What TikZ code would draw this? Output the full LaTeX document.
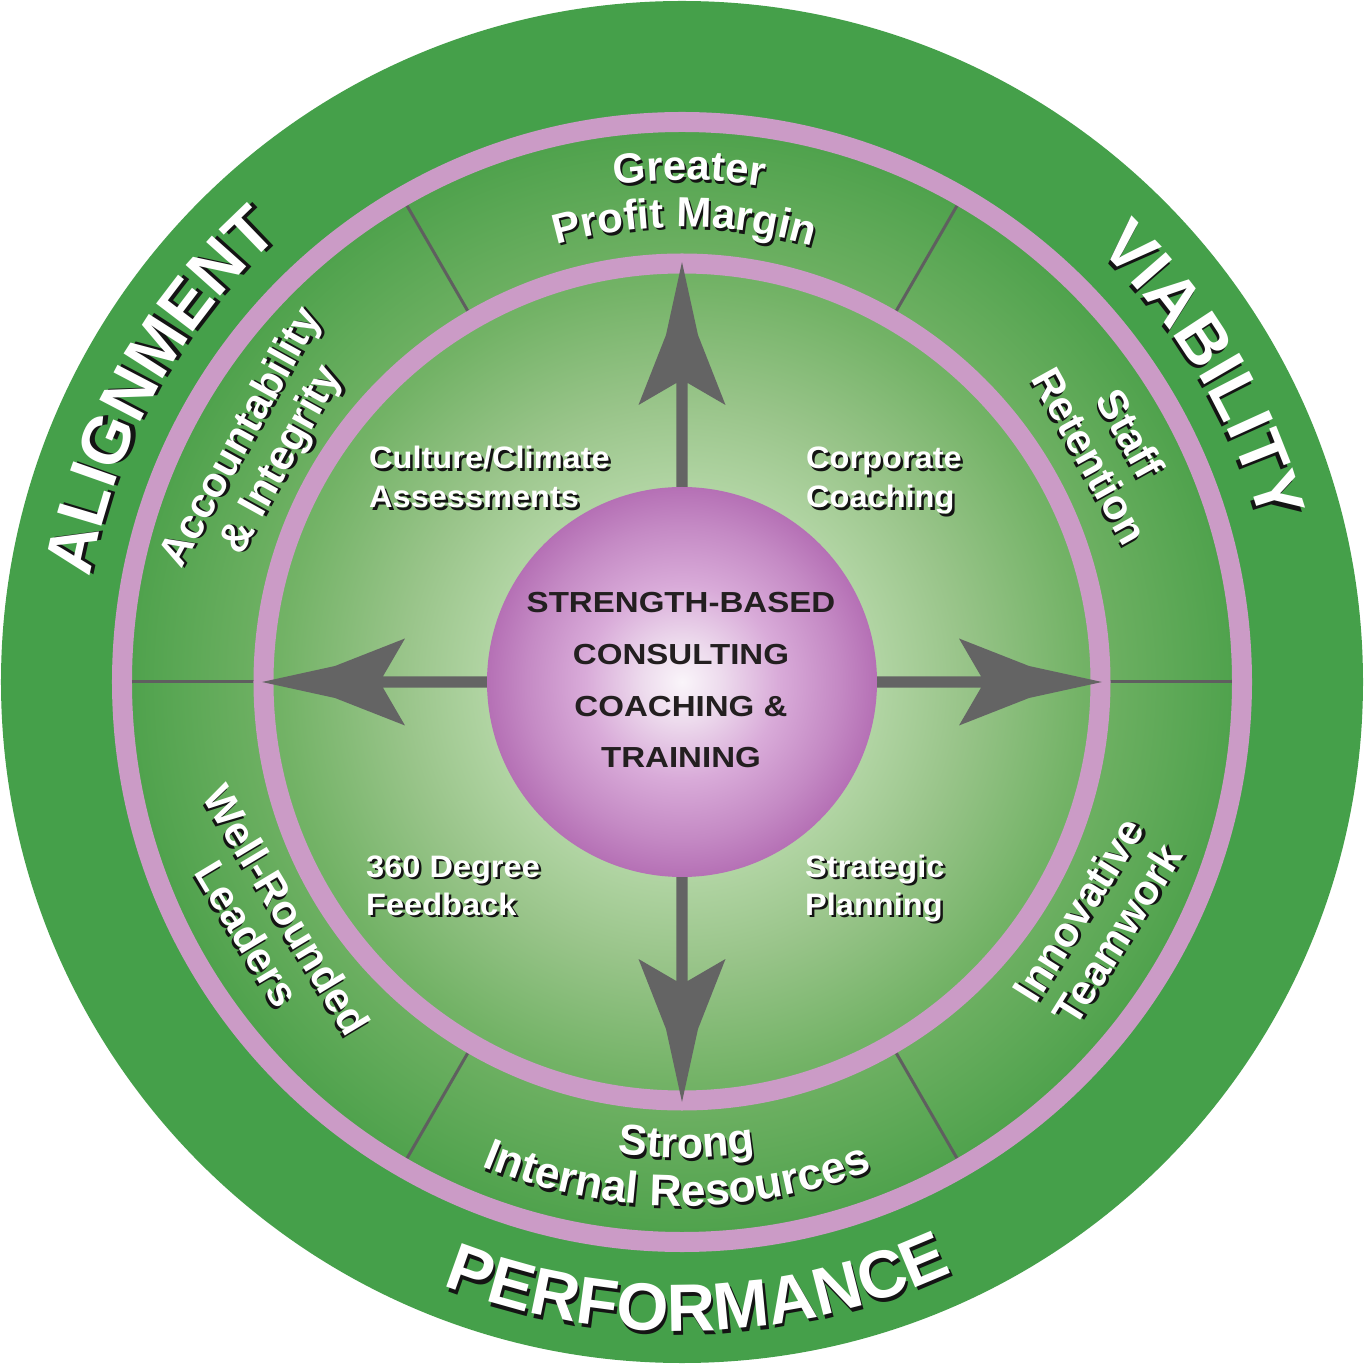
\documentclass[tikz,border=0pt]{standalone}
\usepackage{fontspec}
\setmainfont{Liberation Sans}
\newfontfamily\heavyfont{Liberation Sans Bold}
\newfontfamily\widefont{Liberation Sans Bold}[FakeStretch=1.14]
\newfontfamily\medfont{Liberation Sans Bold}[FakeStretch=1.05]
\usetikzlibrary{decorations.text}

\definecolor{outerg}{RGB}{69,160,74}
\definecolor{ringpink}{RGB}{203,155,198}
\definecolor{divgray}{RGB}{95,95,95}
\definecolor{arrowgray}{RGB}{100,100,100}
\definecolor{shadowc}{RGB}{20,20,20}
\definecolor{ctrtext}{RGB}{35,31,32}

\pgfdeclareradialshading{greenfield}{\pgfpoint{0bp}{0bp}}{rgb(0bp)=(0.87,0.93,0.83); rgb(9bp)=(0.69,0.83,0.635); rgb(12.7bp)=(0.6,0.77,0.54); rgb(18.1bp)=(0.45,0.70,0.40); rgb(25bp)=(0.31,0.635,0.30); rgb(50bp)=(0.31,0.635,0.30)}
\pgfdeclareradialshading{spherefill}{\pgfpoint{0bp}{0bp}}{rgb(0bp)=(0.98,0.96,0.98); rgb(5bp)=(0.93,0.86,0.93); rgb(12.4bp)=(0.85,0.67,0.85); rgb(20bp)=(0.77,0.54,0.77); rgb(25bp)=(0.71,0.44,0.71); rgb(50bp)=(0.71,0.44,0.71)}

% clockwise arc text (tops outward): #1 centre angle, #2 baseline radius, #3 half span, #4 font size, #5 shadow, #6 text
\newcommand\cwtext[6]{%
  \pgfmathsetmacro\shA{#1+#3-0.6*#5/#2*57.3}%
  \pgfmathsetmacro\shB{#1-#3-0.6*#5/#2*57.3}%
  \pgfmathsetmacro\shR{#2-#5}%
  \path[decorate,decoration={text along path,text align=center,text color=shadowc,
     text={|\heavyfont\fontsize{#4pt}{#4pt}\selectfont|#6}}]
     (\shA:\shR) arc[start angle=\shA, end angle=\shB, radius=\shR];
  \path[decorate,decoration={text along path,text align=center,text color=white,
     text={|\heavyfont\fontsize{#4pt}{#4pt}\selectfont|#6}}]
     ({#1+#3}:#2) arc[start angle={#1+#3}, end angle={#1-#3}, radius=#2];
}
% counter-clockwise arc text (tops inward)
\newcommand\ccwtext[6]{%
  \pgfmathsetmacro\shA{#1-#3+0.6*#5/#2*57.3}%
  \pgfmathsetmacro\shB{#1+#3+0.6*#5/#2*57.3}%
  \pgfmathsetmacro\shR{#2+#5}%
  \path[decorate,decoration={text along path,text align=center,text color=shadowc,
     text={|\heavyfont\fontsize{#4pt}{#4pt}\selectfont|#6}}]
     (\shA:\shR) arc[start angle=\shA, end angle=\shB, radius=\shR];
  \path[decorate,decoration={text along path,text align=center,text color=white,
     text={|\heavyfont\fontsize{#4pt}{#4pt}\selectfont|#6}}]
     ({#1-#3}:#2) arc[start angle={#1-#3}, end angle={#1+#3}, radius=#2];
}
% rotated straight text with shadow: #1 name, #2 angle, #3 radius, #4 rotation, #5 text
\newcommand\rottext[5]{%
  \begin{scope}[shift={(#2:#3)}, rotate=#4, transform shape]
    \node[midtxt, text=shadowc] (#1s) at (1.8,-3) {#5};
    \node[midtxt, text=white] (#1) at (0,0) {#5};
  \end{scope}}
% inner label line: #1 name, #2 position, #3 text
\newcommand\inlabel[3]{%
  \node[inlbl, text=shadowc, xshift=2.5pt, yshift=-2.5pt] (#1s) at #2 {#3};
  \node[inlbl, text=white] (#1) at #2 {#3};}

\begin{document}
\begin{tikzpicture}[x=1pt,y=1pt,
  midtxt/.style={font=\heavyfont\fontsize{42pt}{46pt}\selectfont, align=center, inner sep=0pt},
  inlbl/.style={font=\medfont\fontsize{31pt}{31pt}\selectfont, anchor=base west, inner sep=0pt},
  ctr/.style={font=\widefont\fontsize{29pt}{29pt}\selectfont, text=ctrtext, anchor=base, inner sep=0pt},
  divline/.style={draw=divgray, line width=3pt},
  pinkring/.style={draw=ringpink, line width=20pt},
  bigarrow/.style={fill=arrowgray}]
\useasboundingbox (-682,-682) rectangle (682,682);
\fill[white] (-682,-682) rectangle (682,682);
\fill[outerg] (0,0) circle (681);
\shade[shading=greenfield] (0,0) circle (552);
\foreach \a in {0,60,...,300} \draw[divline] (\a:420) -- (\a:558);
\draw[pinkring] (0,0) circle (560);
\draw[pinkring] (0,0) circle (418.5);
\foreach \r in {0,90,180,270}
  \fill[bigarrow, rotate=\r] (0,-5.7) -- (299,-5.7) -- (277,-43.5) -- (347,-16) -- (420,0)
     -- (347,16) -- (277,43.5) -- (299,5.7) -- (0,5.7) -- cycle;
\node[circle, minimum size=390pt, inner sep=0pt, shade, shading=spherefill] (core) at (0,0) {};

\node[ctr] (c1) at (-1,69) {STRENGTH-BASED};
\node[ctr] (c2) at (-1,17) {CONSULTING};
\node[ctr] (c3) at (-1,-35) {COACHING \&};
\node[ctr] (c4) at (-1,-86) {TRAINING};

\inlabel{cc1}{(-313,213)}{Culture/Climate}
\inlabel{cc2}{(-313,174)}{Assessments}
\inlabel{co1}{(124,213)}{Corporate}
\inlabel{co2}{(124,174)}{Coaching}
\inlabel{fb1}{(-316,-195)}{360 Degree}
\inlabel{fb2}{(-316,-233)}{Feedback}
\inlabel{sp1}{(123,-195)}{Strategic}
\inlabel{sp2}{(123,-233)}{Planning}

\rottext{acc}{151}{480}{61}{Accountability\\\& Integrity}
\rottext{staff}{29}{490}{-61}{Staff\\Retention}
\rottext{innov}{-30}{480}{58}{Innovative\\Teamwork}
\rottext{well}{210}{479}{-59}{Well-Rounded\\Leaders}

\cwtext{89.2}{502}{40}{42}{3}{Greater}
\cwtext{89.7}{455}{45}{42}{3}{Profit Margin}
\ccwtext{270.6}{476}{40}{43}{3}{Strong}
\ccwtext{269.4}{524}{40}{44.5}{3}{Internal Resources}

\cwtext{151}{601}{40}{67}{4}{ALIGNMENT}
\cwtext{30.8}{601}{40}{67}{4}{VIABILITY}
\ccwtext{271.5}{649}{45}{67}{4}{PERFORMANCE}
\end{tikzpicture}
\end{document}
